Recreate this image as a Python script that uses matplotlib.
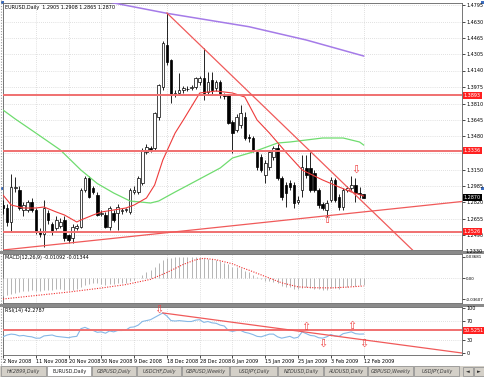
import numpy as np
import matplotlib
matplotlib.use('Agg')
import matplotlib.pyplot as plt
from matplotlib.patches import Rectangle
from matplotlib import font_manager

# EURUSD daily bars (Sunday sessions included), 2 Nov 2008 .. 12 Feb 2009
opens = [1.2790, 1.2760, 1.2630, 1.2960, 1.2945, 1.2740, 1.2745, 1.2825, 1.2745, 1.2520,
         1.2510, 1.2715, 1.2600, 1.2565, 1.2590, 1.2645, 1.2495, 1.2465, 1.2570, 1.2575,
         1.2945, 1.3065, 1.2960, 1.2895, 1.2700, 1.2695, 1.2575, 1.2715, 1.2715, 1.2735,
         1.2740, 1.2725, 1.2930, 1.2925, 1.3015, 1.3325, 1.3360, 1.3365, 1.3675, 1.3975,
         1.4395, 1.4245, 1.3905, 1.3915, 1.3945, 1.3960, 1.3970, 1.3975, 1.4025, 1.4065,
         1.3925, 1.4045, 1.3965, 1.4025, 1.3895, 1.3895, 1.3625, 1.3545, 1.3595, 1.3675,
         1.3470, 1.3465, 1.3325, 1.3275, 1.3095, 1.3175, 1.3275, 1.3365, 1.3065, 1.2995,
         1.3015, 1.2995, 1.2830, 1.2945, 1.3165, 1.3165, 1.3115, 1.2945, 1.2805, 1.2745,
         1.2845, 1.3045, 1.2875, 1.2775, 1.2950, 1.2960, 1.2995, 1.2915, 1.2905]
highs = [1.2840, 1.2800, 1.3110, 1.3075, 1.2980, 1.2820, 1.2850, 1.2860, 1.2770, 1.2560,
         1.2845, 1.2740, 1.2620, 1.2680, 1.2660, 1.2680, 1.2510, 1.2600, 1.2600, 1.2960,
         1.3080, 1.3080, 1.2990, 1.2930, 1.2740, 1.2720, 1.2790, 1.2740, 1.2800, 1.2760,
         1.2770, 1.2960, 1.2990, 1.3090, 1.3370, 1.3400, 1.3390, 1.3730, 1.4010, 1.4435,
         1.4715, 1.4260, 1.3950, 1.4115, 1.3990, 1.3985, 1.4000, 1.4080, 1.4090, 1.4365,
         1.4125, 1.4125, 1.4050, 1.4050, 1.3920, 1.3910, 1.3650, 1.3700, 1.3795, 1.3730,
         1.3500, 1.3480, 1.3340, 1.3300, 1.3240, 1.3350, 1.3390, 1.3400, 1.3090, 1.3020,
         1.3040, 1.3020, 1.2880, 1.3295, 1.3295, 1.3325, 1.3140, 1.2970, 1.2830, 1.2840,
         1.3075, 1.3070, 1.2900, 1.2970, 1.2990, 1.3085, 1.3065, 1.2975, 1.2908]
lows = [1.2700, 1.2580, 1.2520, 1.2920, 1.2740, 1.2680, 1.2720, 1.2720, 1.2500, 1.2480,
        1.2375, 1.2610, 1.2490, 1.2540, 1.2560, 1.2440, 1.2420, 1.2415, 1.2550, 1.2560,
        1.2930, 1.2860, 1.2900, 1.2680, 1.2680, 1.2560, 1.2550, 1.2620, 1.2545, 1.2710,
        1.2720, 1.2710, 1.2910, 1.2900, 1.2995, 1.3300, 1.3330, 1.3340, 1.3650, 1.3950,
        1.4200, 1.3815, 1.3880, 1.3895, 1.3920, 1.3935, 1.3945, 1.3960, 1.4000, 1.3845,
        1.3900, 1.3895, 1.3940, 1.3870, 1.3860, 1.3600, 1.3315, 1.3520, 1.3570, 1.3440,
        1.3430, 1.3320, 1.3150, 1.3120, 1.3015, 1.3150, 1.3250, 1.3040, 1.2850, 1.2775,
        1.2950, 1.2765, 1.2800, 1.2875, 1.3070, 1.2920, 1.2920, 1.2770, 1.2740, 1.2675,
        1.2820, 1.2820, 1.2750, 1.2750, 1.2930, 1.2935, 1.2825, 1.2860, 1.2865]
closes = [1.2760, 1.2625, 1.2975, 1.2975, 1.2765, 1.2790, 1.2825, 1.2745, 1.2525, 1.2510,
          1.2765, 1.2645, 1.2525, 1.2645, 1.2625, 1.2465, 1.2445, 1.2575, 1.2580, 1.2945,
          1.3065, 1.2875, 1.2925, 1.2695, 1.2715, 1.2575, 1.2765, 1.2645, 1.2775, 1.2740,
          1.2750, 1.2945, 1.2950, 1.3065, 1.3345, 1.3375, 1.3350, 1.3715, 1.3995, 1.4415,
          1.4225, 1.3895, 1.3915, 1.3945, 1.3965, 1.3955, 1.3975, 1.4065, 1.4065, 1.3915,
          1.4025, 1.3945, 1.4025, 1.3895, 1.3890, 1.3615, 1.3515, 1.3675, 1.3715, 1.3465,
          1.3460, 1.3345, 1.3175, 1.3145, 1.3215, 1.3325, 1.3365, 1.3065, 1.2875, 1.2915,
          1.2975, 1.2815, 1.2845, 1.3175, 1.3095, 1.2945, 1.2945, 1.2795, 1.2765, 1.2815,
          1.3045, 1.2845, 1.2775, 1.2945, 1.2965, 1.2995, 1.2915, 1.2905, 1.2870]

date_labels = ['2 Nov 2008', '11 Nov 2008', '20 Nov 2008', '30 Nov 2008', '9 Dec 2008',
               '18 Dec 2008', '28 Dec 2008', '6 Jan 2009', '15 Jan 2009', '25 Jan 2009',
               '3 Feb 2009', '12 Feb 2009']
label_bars = [0, 8, 16, 24, 32, 40, 48, 56, 64, 72, 80, 88]

price_ticks = [1.4795, 1.4630, 1.4465, 1.4305, 1.4140, 1.3975, 1.3810, 1.3645, 1.3480,
               1.3315, 1.3150, 1.2985, 1.2820, 1.2655, 1.2490]

# moving averages
ma_red_bars = [0, 2, 5, 8, 10, 13, 15, 18, 19, 22, 24, 27, 30, 32, 35, 37, 39, 42, 44, 48,
               52, 56, 59, 62, 65, 69, 73, 78, 82, 85, 88]
ma_red_vals = [1.2895, 1.2795, 1.2765, 1.2765, 1.2775, 1.2725, 1.2695, 1.2625, 1.2645, 1.2695,
               1.2725, 1.2745, 1.2765, 1.2795, 1.2865, 1.2995, 1.3245, 1.3515, 1.3645, 1.3915,
               1.3935, 1.3915, 1.3875, 1.3645, 1.3515, 1.3325, 1.3145, 1.3045, 1.2975, 1.2925,
               1.2885]
ma_green_bars = [0, 3, 8, 14, 19, 23, 27, 31, 36, 38, 42, 45, 53, 56, 61, 67, 70, 78, 83, 87, 88]
ma_green_vals = [1.3745, 1.3655, 1.3515, 1.3345, 1.3145, 1.3010, 1.2915, 1.2835, 1.2815, 1.2835,
                 1.2925, 1.2990, 1.3165, 1.3265, 1.3325, 1.3415, 1.3425, 1.3465, 1.3465, 1.3425,
                 1.3395]
ma_purple_bars = [22, 40, 60, 74, 88]
ma_purple_vals = [1.4855, 1.4712, 1.4578, 1.4445, 1.4285]

levels = [1.3893, 1.3336, 1.2526]
resist_bars, resist_vals = [40, 100], [1.4715, 1.2342]
support_bars, support_vals = [0, 112], [1.2345, 1.2830]
last_price = 1.2870

macd_hist = [-0.030, -0.029, -0.027, -0.025, -0.024, -0.023, -0.022, -0.021,
             -0.022, -0.022, -0.020, -0.020, -0.020, -0.019, -0.019, -0.020,
             -0.021, -0.020, -0.019, -0.015, -0.011, -0.010, -0.009, -0.009,
             -0.010, -0.011, -0.010, -0.010, -0.009, -0.009, -0.008, -0.005,
             -0.003, 0.000, 0.005, 0.010, 0.014, 0.020, 0.026, 0.032,
             0.035, 0.035, 0.036, 0.036, 0.0368, 0.0368, 0.036, 0.036,
             0.036, 0.035, 0.034, 0.033, 0.031, 0.029, 0.027, 0.024,
             0.020, 0.019, 0.017, 0.013, 0.010, 0.006, 0.002, -0.002,
             -0.004, -0.005, -0.006, -0.009, -0.013, -0.015, -0.016, -0.018,
             -0.019, -0.017, -0.016, -0.017, -0.018, -0.019, -0.020, -0.020,
             -0.017, -0.017, -0.018, -0.016, -0.015, -0.013, -0.013, -0.012, -0.01092]
sig_bars = [0, 8, 16, 24, 30, 36, 40, 44, 47, 49, 52, 56, 58, 60, 64, 68, 72, 76, 80, 84, 88]
sig_vals = [-0.03607, -0.030, -0.024, -0.017, -0.011, -0.002, 0.010, 0.024, 0.032, 0.0345,
            0.032, 0.025, 0.019, 0.014, 0.003, -0.008, -0.015, -0.0165, -0.0168, -0.0155,
            -0.01344]

rsi_vals = [36, 40, 42, 41, 38, 39, 37, 36, 33, 33, 38, 39, 40, 37, 36, 35, 34, 36, 37, 54,
            57, 53, 50, 46, 47, 44, 49, 47, 50, 50, 51, 57, 58, 62, 70, 72, 74, 79, 84, 89,
            82, 72, 71, 72, 71, 70, 70, 73, 74, 68, 70, 67, 66, 62, 60, 50, 48, 50, 50, 46,
            44, 41, 37, 36, 39, 42, 42, 36, 33, 35, 37, 33, 35, 47, 43, 39, 38, 34, 33, 36,
            41, 38, 37, 43, 45, 47, 43, 42, 42.2787]
rsi_level = 50.5251
rsi_tl_bars, rsi_tl_vals = [39, 112], [89, 0]

tab_names = ['HK2899,Daily', 'EURUSD,Daily', 'GBPUSD,Daily', 'USDCHF,Daily', 'GBPUSD,Weekly',
             'USDJPY,Daily', 'NZDUSD,Daily', 'AUDUSD,Daily', 'GBPUSD,Weekly', 'USDJPY,Daily']

installed = {f.name for f in font_manager.fontManager.ttflist}
if 'Liberation Sans Narrow' in installed:
    plt.rcParams['font.family'] = ['Liberation Sans Narrow', 'DejaVu Sans']
    FS = 4.4
else:
    plt.rcParams['font.family'] = ['DejaVu Sans']
    FS = 3.5

W, H = 485, 377


def box(x0, y0, x1, y1):
    return [x0 / W, 1 - y1 / H, (x1 - x0) / W, (y1 - y0) / H]


fig = plt.figure(figsize=(4.85, 3.77), dpi=100)
fig.patch.set_facecolor('white')

ax = fig.add_axes(box(3, 3, 462, 250))
ax_macd = fig.add_axes(box(3, 254, 462, 303), sharex=ax)
ax_rsi = fig.add_axes(box(3, 307, 462, 355), sharex=ax)

grid_kw = dict(color='#c4c4c4', linestyle=(0, (1, 2)), linewidth=0.5)

for a in (ax, ax_macd, ax_rsi):
    a.yaxis.tick_right()
    a.tick_params(axis='y', labelsize=FS, length=2, pad=1.2, width=0.5)
    for s in a.spines.values():
        s.set_color('#606060')
        s.set_linewidth(0.6)
    a.set_axisbelow(True)

ax.set_xlim(0.6, 112.0)
ax.set_xticks(label_bars)
ax.tick_params(axis='x', labelbottom=False, length=0)
ax_macd.tick_params(axis='x', labelbottom=False, length=0)
ax_rsi.set_xticks(label_bars)
ax_rsi.set_xticklabels(date_labels, ha='left')
ax_rsi.tick_params(axis='x', labelsize=FS, length=2, pad=1, width=0.5)

# ---- main price panel ----
ax.set_ylim(1.2345, 1.4815)
ax.set_yticks(price_ticks)
# the 1.3315 label sits under the red 1.3336 tag, as in the terminal
ax.set_yticklabels(['' if p == 1.3315 else '%.4f' % p for p in price_ticks])
ax.grid(True, **grid_kw)

x = np.arange(len(closes))
o, h, l, c = (np.array(v) for v in (opens, highs, lows, closes))
bull = c >= o
ax.vlines(x, l, h, color='black', linewidth=0.6, zorder=3)
ax.bar(x, np.maximum(np.abs(c - o), 0.0004), bottom=np.minimum(o, c), width=0.62,
       color=np.where(bull, 'white', 'black'), edgecolor='black', linewidth=0.5, zorder=4)

ax.plot(ma_purple_bars, ma_purple_vals, color='#a57be8', linewidth=1.1, zorder=5)
ax.plot(ma_green_bars, ma_green_vals, color='#6fdc6f', linewidth=0.9, zorder=5)
ax.plot(ma_red_bars, ma_red_vals, color='#ee3b3b', linewidth=0.8, zorder=5)

for lv in levels:
    ax.axhline(lv, color='#f07070', linewidth=1.4, zorder=6)
slope = (resist_vals[1] - resist_vals[0]) / (resist_bars[1] - resist_bars[0])
ax.plot([resist_bars[0], 120], [resist_vals[0], resist_vals[0] + slope * (120 - resist_bars[0])],
        color='#f05a5a', linewidth=0.9, zorder=6)
ax.axline((support_bars[0], support_vals[0]), (support_bars[1], support_vals[1]),
          color='#f05a5a', linewidth=0.9, zorder=6)

arrow_kw = dict(color='#f04040', fontsize=8, ha='center', va='center', zorder=7,
                family='DejaVu Sans')
ax.text(86, 1.3150, '\u21e9', **arrow_kw)
ax.text(79, 1.2640, '\u21e7', **arrow_kw)

ax.text(0.004, 0.992, 'EURUSD,Daily  1.2905 1.2908 1.2865 1.2870', transform=ax.transAxes,
        fontsize=FS, va='top', ha='left', zorder=8)

ytr = ax.get_yaxis_transform()
for lv in levels:
    ax.text(1.004, lv, '%.4f' % lv, transform=ytr, fontsize=FS, color='white', ha='left',
            va='center', clip_on=False, zorder=10,
            bbox=dict(boxstyle='square,pad=0.2', fc='#ff2020', ec='none'))
ax.text(1.004, last_price, '%.4f' % last_price, transform=ytr, fontsize=FS, color='white',
        ha='left', va='center', clip_on=False, zorder=10,
        bbox=dict(boxstyle='square,pad=0.2', fc='black', ec='none'))
ax.text(1.0075, 1.2330, '1.2330', transform=ytr, fontsize=FS, ha='left', va='center',
        clip_on=False)

# ---- MACD panel ----
ax_macd.set_ylim(-0.0430, 0.0420)
ax_macd.set_yticks([0.03681, 0.0, -0.03607])
ax_macd.set_yticklabels(['0.03681', '0.00', '-0.03607'])
ax_macd.tick_params(axis='y', labelsize=FS - 0.6, pad=0.8)
ax_macd.grid(True, axis='x', **grid_kw)
ax_macd.axhline(0, **grid_kw)
ax_macd.vlines(x, 0, macd_hist, color='#b4b4b4', linewidth=0.7, zorder=3)
ax_macd.plot(sig_bars, sig_vals, color='#f03030', linewidth=0.8, linestyle=(0, (1, 1.3)), zorder=4)
ax_macd.text(0.004, 0.97, 'MACD(12,26,9) -0.01092 -0.01344', transform=ax_macd.transAxes,
             fontsize=FS, va='top', ha='left')

# ---- RSI panel ----
ax_rsi.set_ylim(-4.4, 102.2)
ax_rsi.set_yticks([100, 70, 30, 0])
ax_rsi.set_yticklabels(['100', '70', '30', '0'])
ax_rsi.grid(True, axis='x', **grid_kw)
for lv in (70, 30):
    ax_rsi.axhline(lv, **grid_kw)
ax_rsi.plot(x, rsi_vals, color='#86b8e6', linewidth=0.8, zorder=4)
ax_rsi.axhline(rsi_level, color='#f07070', linewidth=1.4, zorder=5)
rs = (rsi_tl_vals[1] - rsi_tl_vals[0]) / (rsi_tl_bars[1] - rsi_tl_bars[0])
ax_rsi.plot([rsi_tl_bars[0], 120], [rsi_tl_vals[0], rsi_tl_vals[0] + rs * (120 - rsi_tl_bars[0])],
            color='#f05a5a', linewidth=0.9, zorder=5)
for bx, by, g in [(38, 96, '\u21e9'), (74, 58, '\u21e7'), (78, 20, '\u21e9'),
                  (85, 60, '\u21e7'), (88, 20, '\u21e9')]:
    ax_rsi.text(bx, by, g, **arrow_kw)
ax_rsi.text(0.004, 0.97, 'RSI(14) 42.2787', transform=ax_rsi.transAxes, fontsize=FS,
            va='top', ha='left')
ax_rsi.text(1.004, rsi_level, '%.4f' % rsi_level, transform=ax_rsi.get_yaxis_transform(),
            fontsize=FS, color='white', ha='left', va='center', clip_on=False, zorder=10,
            bbox=dict(boxstyle='square,pad=0.2', fc='#ff2020', ec='none'))

# ---- window chrome: separators, tabs ----
ov = fig.add_axes([0, 0, 1, 1], zorder=-1)
ov.set_xlim(0, W)
ov.set_ylim(H, 0)
ov.axis('off')
for y0 in (250.5, 303.5):
    ov.add_patch(Rectangle((0, y0), W, 3, fc='#8a8a8a', ec='none'))
ov.plot([1, 1], [0, 365], color='#9a9a9a', linewidth=0.8, linestyle=(0, (1, 1.5)))
for bx, by in [(1, 1), (481, 1), (1, 187), (481, 187)]:
    ov.add_patch(Rectangle((bx, by), 3, 3, fc='#3f6fc0', ec='none'))

ov.add_patch(Rectangle((0, 365.5), W, 11.5, fc='#d4d0c8', ec='none'))
tab_edges = [0, 47, 92, 137, 182, 230, 278, 324, 368, 414, 460]
for k, name in enumerate(tab_names):
    x0, x1 = tab_edges[k], tab_edges[k + 1]
    active = k == 1
    ov.add_patch(Rectangle((x0 + 0.5, 366), x1 - x0 - 1, 10, fc='white' if active else '#d4d0c8',
                           ec='#8c8c8c', linewidth=0.5))
    ov.text((x0 + x1) / 2, 371.3, name, fontsize=FS, ha='center', va='center',
            color='#202020' if active else '#404040', style='normal' if active else 'italic')
for bx, g in [(463, '\u25c4'), (474, '\u25ba')]:
    ov.add_patch(Rectangle((bx, 366.5), 10, 9, fc='#d4d0c8', ec='#8c8c8c', linewidth=0.5))
    ov.text(bx + 5, 371.2, g, fontsize=3.5, ha='center', va='center', color='#303030',
            family='DejaVu Sans')

fig.savefig('out.png', dpi=100)
